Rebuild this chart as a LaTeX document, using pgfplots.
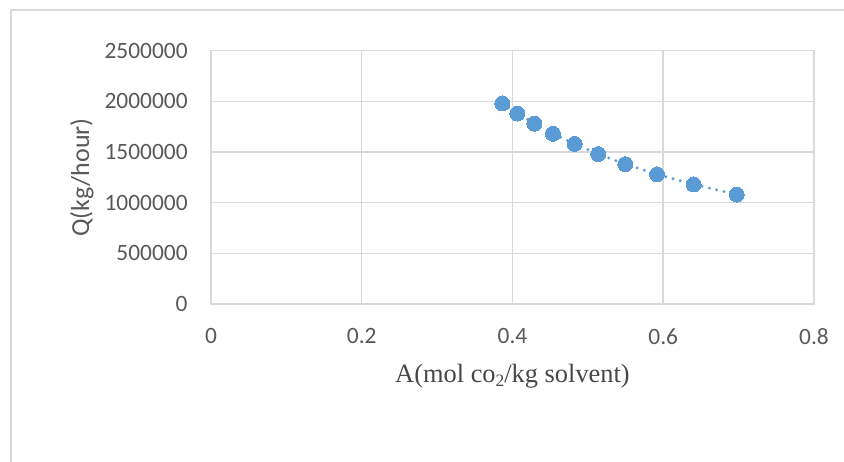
\documentclass[border=0pt]{standalone}
\usepackage{fontspec}
\setmainfont{Carlito}
\newfontfamily\timesfont{Liberation Serif}
\usepackage{pgfplots}
\pgfplotsset{compat=1.18}
\definecolor{gridc}{HTML}{D9D9D9}
\definecolor{txt}{HTML}{595959}
\definecolor{mk}{HTML}{5B9BD5}
\begin{document}
\begin{tikzpicture}
\useasboundingbox (0,0) rectangle (422pt,230.5pt);
\draw[gridc, line width=1pt] (5.5pt,-2pt) -- (5.5pt,225.5pt) -- (425pt,225.5pt);
\begin{axis}[
  at={(105.5pt,78.5pt)}, anchor=south west,
  scale only axis, width=301.5pt, height=126.65pt,
  xmin=0, xmax=0.8, ymin=0, ymax=2500000,
  xtick={0,0.2,0.4,0.6,0.8},
  ytick={0,500000,1000000,1500000,2000000,2500000},
  scaled y ticks=false, scaled x ticks=false,
  /pgf/number format/assume math mode=true,
  every tick label/.append style={font=\fontsize{11.7}{14}\selectfont, text=txt, inner sep=0pt},
  yticklabel style={anchor=east, xshift=-11.5pt, /pgf/number format/fixed, /pgf/number format/1000 sep={}},
  xticklabel style={anchor=north, yshift=-12pt, /pgf/number format/fixed, /pgf/number format/precision=1},
  major tick length=0pt,
  grid=major,
  major grid style={gridc, line width=0.75pt},
  axis line style={gridc, line width=0.75pt},
  ylabel={Q(kg/hour)},
  xlabel={\timesfont A(mol co\raisebox{-2.3pt}{\fontsize{8.7}{10}\selectfont 2}/kg solvent)},
  every axis y label/.style={at={(axis description cs:-0.214,0.5)}, rotate=90, anchor=center, font=\fontsize{13}{16}\selectfont, text=txt},
  every axis x label/.style={at={(axis description cs:0.5,-0.308)}, anchor=base, font=\fontsize{13.2}{16}\selectfont, text=txt!80!black},
  clip=false,
]
\addplot[mk, line width=1.6pt, dash pattern=on 0pt off 3.75pt, line cap=round,
  mark=*, mark size=3.75pt, mark options={solid, fill=mk, draw=mk, line width=0pt}]
  coordinates {
  (0.3865,1980000) (0.4064,1880000) (0.4289,1780000) (0.4537,1680000)
  (0.4825,1580000) (0.5138,1480000) (0.5497,1380000) (0.5917,1280000)
  (0.6404,1180000) (0.6975,1080000)
  };
\end{axis}
\end{tikzpicture}
\end{document}
